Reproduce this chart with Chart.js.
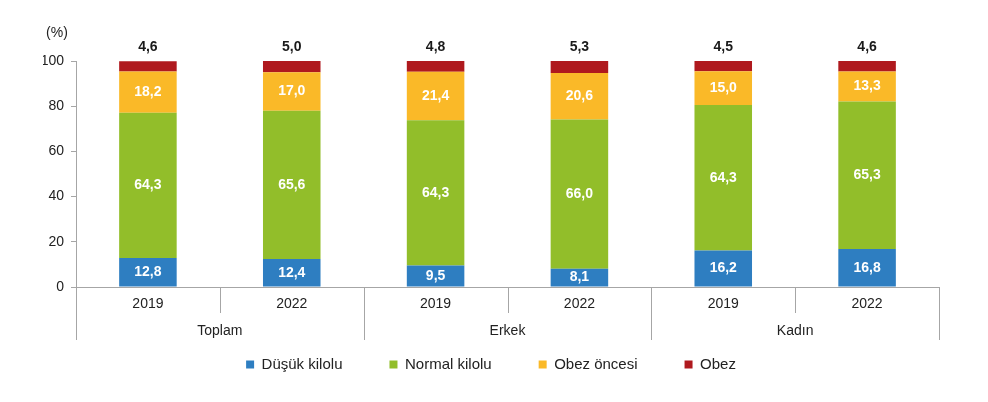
<!DOCTYPE html>
<html>
<head>
<meta charset="utf-8">
<script src="https://cdn.jsdelivr.net/npm/chart.js@4"></script>
<style>
  html, body { margin: 0; padding: 0; background: #fff; }
  #wrap { width: 988px; height: 402px; }
</style>
</head>
<body>
<div id="wrap"><canvas id="bmiChart"></canvas></div>
<script>
const years = ['2019', '2022', '2019', '2022', '2019', '2022'];
const groups = ['Toplam', 'Erkek', 'Kadın'];

const dusuk = [12.8, 12.4, 9.5, 8.1, 16.2, 16.8];
const normal = [64.3, 65.6, 64.3, 66.0, 64.3, 65.3];
const obezOncesi = [18.2, 17.0, 21.4, 20.6, 15.0, 13.3];
const obez = [4.6, 5.0, 4.8, 5.3, 4.5, 4.6];

const gray = '#a6a6a6';
const font = 'Liberation Sans, Arial, sans-serif';

const fmt = v => v.toFixed(1).replace('.', ',');

// values inside the bars (white) and the Obez value on top (black)
const valueLabels = {
    id: 'valueLabels',
    afterDatasetsDraw(chart) {
        const ctx = chart.ctx;
        ctx.save();
        ctx.font = 'bold 14px ' + font;
        ctx.textAlign = 'center';
        ctx.textBaseline = 'middle';
        chart.data.datasets.forEach((ds, i) => {
            const meta = chart.getDatasetMeta(i);
            meta.data.forEach((bar, j) => {
                const v = ds.data[j];
                if (i === 3) {
                    ctx.fillStyle = '#1a1a1a';
                    ctx.fillText(fmt(v), bar.x, bar.y - 14);
                } else {
                    ctx.fillStyle = '#ffffff';
                    ctx.fillText(fmt(v), bar.x, (bar.y + bar.base) / 2);
                }
            });
        });
        ctx.restore();
    }
};

// category separators, years, group names and the (%) unit
const groupAxis = {
    id: 'groupAxis',
    afterDraw(chart) {
        const ctx = chart.ctx;
        const xs = chart.scales.x;
        const ys = chart.scales.y;
        const n = years.length;
        const w = (xs.right - xs.left) / n;
        ctx.save();
        ctx.strokeStyle = gray;
        ctx.lineWidth = 1;
        for (let i = 0; i <= n; i++) {
            const x = Math.round(xs.left + i * w) + 0.5;
            ctx.beginPath();
            ctx.moveTo(x, xs.top);
            ctx.lineTo(x, xs.top + (i % 2 === 0 ? 53 : 26));
            ctx.stroke();
        }
        ctx.fillStyle = '#222';
        ctx.font = '14px ' + font;
        ctx.textAlign = 'center';
        ctx.textBaseline = 'middle';
        years.forEach((y, j) => {
            ctx.fillText(y, xs.getPixelForValue(j), xs.top + 17);
        });
        groups.forEach((g, k) => {
            ctx.fillText(g, xs.left + (2 * k + 1) * w, xs.top + 44);
        });
        ctx.fillText('(%)', ys.right - 19, ys.top - 28);
        ctx.restore();
    }
};

new Chart(document.getElementById('bmiChart'), {
    type: 'bar',
    data: {
        labels: years,
        datasets: [
            { label: 'Düşük kilolu', data: dusuk, backgroundColor: '#2e7ec1' },
            { label: 'Normal kilolu', data: normal, backgroundColor: '#92be2a' },
            { label: 'Obez öncesi', data: obezOncesi, backgroundColor: '#fab928' },
            { label: 'Obez', data: obez, backgroundColor: '#af191e' }
        ]
    },
    options: {
        responsive: true,
        maintainAspectRatio: false,
        animation: false,
        datasets: {
            bar: { barPercentage: 0.4, categoryPercentage: 1.0 }
        },
        layout: {
            padding: { top: 61, right: 49, bottom: 20, left: 43 }
        },
        scales: {
            x: {
                stacked: true,
                grid: { display: false },
                border: { color: gray },
                ticks: { display: false },
                afterFit(scale) { scale.height = 23; }
            },
            y: {
                stacked: true,
                min: 0,
                max: 100,
                grid: { drawOnChartArea: false, color: gray, tickLength: 5 },
                border: { color: gray },
                ticks: { stepSize: 20, color: '#222', font: { family: font, size: 14 }, padding: 7 },
                afterFit(scale) { scale.width = 33; }
            }
        },
        plugins: {
            legend: {
                position: 'bottom',
                labels: {
                    boxWidth: 8,
                    boxHeight: 8,
                    padding: 47,
                    color: '#222',
                    font: { family: font, size: 15 }
                }
            },
            tooltip: { enabled: false }
        }
    },
    plugins: [valueLabels, groupAxis]
});
</script>
</body>
</html>
